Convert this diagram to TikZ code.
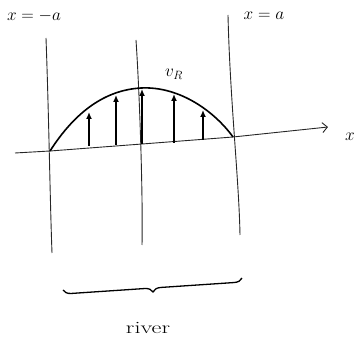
\documentclass[tikz,border=0pt]{standalone}
\usetikzlibrary{decorations.pathreplacing,arrows.meta}
\begin{document}
\begin{tikzpicture}[x=1pt,y=-1pt,
  pen/.style={line width=0.9pt,black!85},
  thick pen/.style={line width=1.6pt,black},
  varrow/.style={line width=1.3pt,-{Latex[length=7pt,width=6pt]}},
  lbl/.style={inner sep=1pt,font=\LARGE}]
\useasboundingbox (0,0) rectangle (360,350);
% vertical lines
\coordinate (l1) at (46,38); \coordinate (l2) at (52,253);
\coordinate (c1) at (136,40); \coordinate (c2) at (142,245);
\coordinate (r1) at (228,15); \coordinate (r2) at (240,235);
\draw[pen] (l1) .. controls (49,120) and (50,200) .. (l2);
\draw[pen] (c1) .. controls (140,100) and (143,200) .. (c2);
\draw[pen] (r1) .. controls (230,100) and (239,180) .. (r2);
% axis
\coordinate (a0) at (15,153);
\coordinate (a1) at (328,127);
\draw[pen,-{Straight Barb[length=5pt]}] (a0) -- (50,151) -- (142,144) -- (233,137) -- (a1);
\node[lbl] (xlab) at (350,137) {$x$};
% curve
\coordinate (p0) at (50,151);
\coordinate (pm) at (141,88);
\coordinate (p1) at (233,137);
\draw[thick pen] (p0) .. controls (75,112) and (105,90) .. (pm) .. controls (180,86) and (215,112) .. (p1);
% arrows
\foreach \n/\bx/\by/\ty in {1/89/146/112, 2/116/145/95, 3/142/144/89, 4/174/143/94, 5/203/140/110}{
  \coordinate (b\n) at (\bx,\by);
  \coordinate (t\n) at (\bx,\ty);
  \draw[varrow] (b\n) -- (t\n);
}
% labels
\node[lbl] (xm) at (34,16) {$x=-a$};
\node[lbl] (xp) at (264,16) {$x=a$};
\node[lbl] (vr) at (174,74) {$v_R$};
% brace
\coordinate (br0) at (63,290);
\coordinate (br1) at (242,278);
\draw[line width=1.3pt,decorate,decoration={brace,mirror,amplitude=8pt}] (br0) -- (br1);
\node[lbl,xscale=1.4] (river) at (148,328) {river};
\end{tikzpicture}
\end{document}
